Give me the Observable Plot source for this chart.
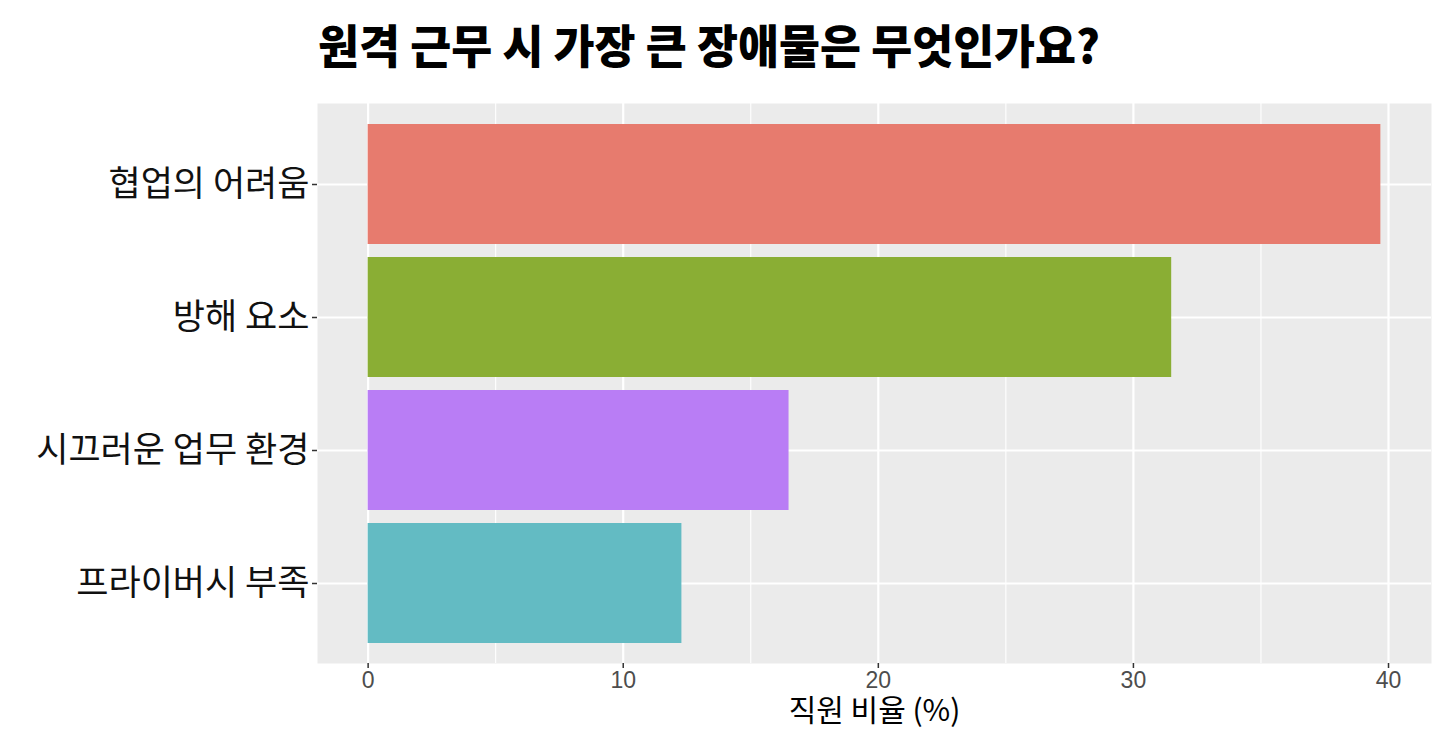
<!DOCTYPE html>
<html>
<head>
<meta charset="utf-8">
<script src="https://cdn.jsdelivr.net/npm/d3@7"></script>
<script src="https://cdn.jsdelivr.net/npm/@observablehq/plot@0.6"></script>
<style>
  html, body { margin: 0; padding: 0; background: #fff; }
  #wrap { width: 1456px; height: 736px; position: relative; overflow: hidden; }
  #title { position: absolute; left: 318px; top: 16px; font-family: "Noto Sans CJK KR", sans-serif; font-weight: 900; font-size: 46px; line-height: 54px; color: #000; white-space: nowrap; transform-origin: 0 0; }
  #chart { position: absolute; left: 0; top: 90px; }
</style>
</head>
<body>
<div id="wrap">
  <div id="title"><span id="titleText">원격 근무 시 가장 큰 장애물은 무엇인가요?</span></div>
  <div id="chart"></div>
</div>
<script>
const categories = ["협업의 어려움", "방해 요소", "시끄러운 업무 환경", "프라이버시 부족"];
const values = [39.7, 31.5, 16.5, 12.3];
const colors = ["#E77B6E", "#8AAE34", "#B97DF5", "#63BBC3"];
const majorTicks = [0, 10, 20, 30, 40];
const minorTicks = [5, 15, 25, 35];
const xLabel = "직원 비율 (%)";

const data = categories.map((c, i) => ({category: c, value: values[i], color: colors[i]}));
const vmax = d3.max(values);

const plot = Plot.plot({
  width: 1456,
  height: 646,
  marginTop: 13,
  marginLeft: 317,
  marginRight: 25,
  marginBottom: 73,
  style: {fontFamily: '"Liberation Sans", "Noto Sans CJK KR", sans-serif', background: "transparent"},
  x: {domain: [-vmax * 0.05, vmax * 1.05]},
  y: {domain: categories, paddingInner: 0.1, paddingOuter: 0.15},
  marks: [
    Plot.frame({fill: "#EBEBEB", stroke: null}),
    Plot.gridX(minorTicks, {stroke: "#fff", strokeOpacity: 1, strokeWidth: 1.1}),
    Plot.gridX(majorTicks, {stroke: "#fff", strokeOpacity: 1, strokeWidth: 2.2}),
    Plot.gridY({stroke: "#fff", strokeOpacity: 1, strokeWidth: 2.2}),
    Plot.barX(data, {y: "category", x: "value", fill: "color"}),
    Plot.axisX(majorTicks, {tickSize: 5, tickPadding: 3, fontSize: 23, color: "#4D4D4D", stroke: "#333", strokeWidth: 1.5, label: null}),
    Plot.axisY({tickSize: 5, tickPadding: 3, fontSize: 35, fontFamily: '"Noto Sans CJK KR", sans-serif', fill: "#111", stroke: "#333", strokeWidth: 1.5, label: null}),
    Plot.text([xLabel], {frameAnchor: "bottom", dy: 57, fontSize: 30, fontFamily: '"Noto Sans CJK KR", sans-serif', fill: "#000"})
  ]
});
document.getElementById("chart").appendChild(plot);

// fit title width to the reference span
const t = document.getElementById("titleText");
const w = t.getBoundingClientRect().width;
document.getElementById("title").style.transform = `scaleX(${782 / w})`;
</script>
</body>
</html>
